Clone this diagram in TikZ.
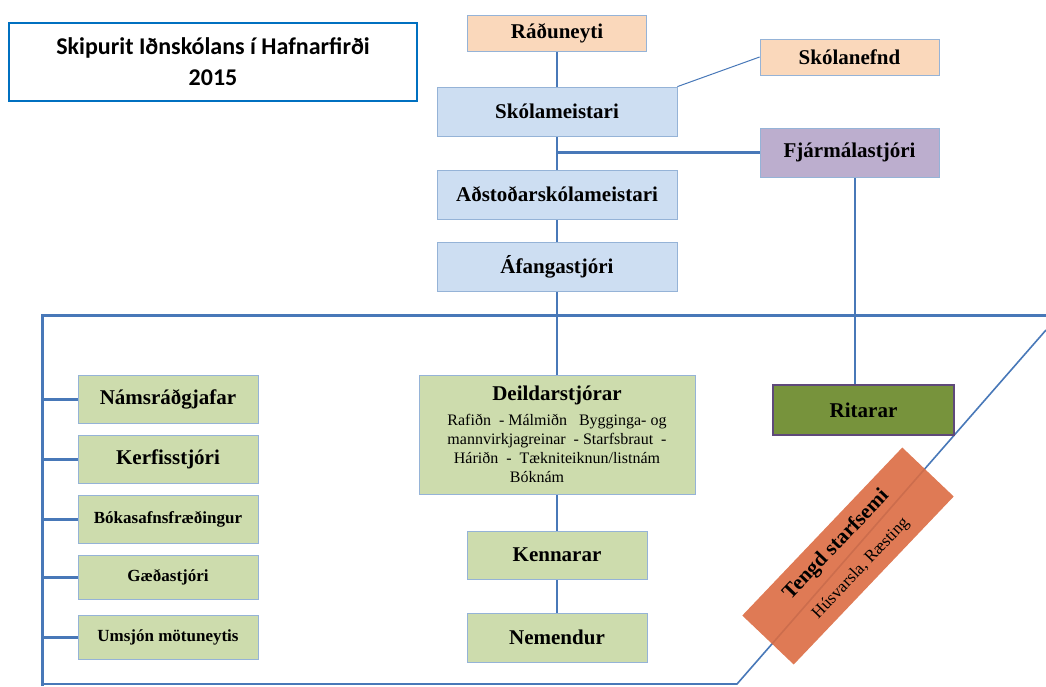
\documentclass[tikz,border=0pt]{standalone}
\usepackage{fontspec}
\setmainfont{Liberation Serif}
\newfontfamily\titlefont{Carlito}
\usetikzlibrary{backgrounds}

\definecolor{orgline}{RGB}{72,120,184}
\definecolor{boxline}{RGB}{149,179,215}
\definecolor{titleline}{RGB}{0,112,192}
\definecolor{peach}{RGB}{250,212,180}
\definecolor{paleblue}{RGB}{200,218,241}
\definecolor{lilac}{RGB}{181,165,201}
\definecolor{sage}{RGB}{200,216,164}
\definecolor{olive}{RGB}{119,147,60}
\definecolor{plum}{RGB}{95,73,122}
\definecolor{rust}{RGB}{219,108,66}

\newcommand\deptfont{\mdseries\fontsize{16}{19}\selectfont}
\newcommand\headfont{\bfseries\fontsize{21}{24}\selectfont}

\begin{document}
\begin{tikzpicture}
  [x=1pt,y=-1pt,
   unitbox/.style={draw=boxline,line width=0.8pt,inner sep=0pt,align=center,
     fill opacity=0.9,text opacity=1,font=\headfont},
   topbox/.style={unitbox,fill=peach,minimum width=179pt,minimum height=36pt},
   headbox/.style={unitbox,fill=paleblue,minimum width=240pt,minimum height=49pt},
   staffbox/.style={unitbox,fill=sage,minimum width=180pt,minimum height=48pt},
   smalltext/.style={font=\bfseries\fontsize{17}{20}\selectfont},
   trunk/.style={draw=orgline,line width=2.2pt},
   feeder/.style={draw=orgline,line width=3pt},
   thinlink/.style={draw=orgline,line width=1pt}]
  \useasboundingbox (0,0) rectangle (1046,686);

  \node[draw=titleline,line width=1.5pt,minimum width=408pt,minimum height=78pt,align=center,
    font=\titlefont\bfseries\fontsize{24}{31}\selectfont] (title) at (213,62)
    {Skipurit Iðnskólans í Hafnarfirði\\2015};

  \node[topbox] (rad) at (557,33)  {Ráðuneyti};
  \node[topbox] (skn) at (849.5,57)  {Skólanefnd};
  \node[headbox] (skm) at (557,111.5) {Skólameistari};
  \node[headbox] (ads) at (557,194.5) {Aðstoðarskólameistari};
  \node[headbox] (afs) at (557,266.5) {Áfangastjóri};
  \node[unitbox,fill=lilac,minimum width=179pt,minimum height=49pt] (fjs) at (849.5,152.5) {Fjármálastjóri};

  \node[staffbox] (nam) at (168,399) {Námsráðgjafar};
  \node[staffbox] (ker) at (168,459) {Kerfisstjóri};
  \node[staffbox,smalltext] (bok) at (168,519) {Bókasafnsfræðingur};
  \node[staffbox,smalltext,minimum height=44pt] (gae) at (168,577) {Gæðastjóri};
  \node[staffbox,smalltext,minimum height=44pt] (ums) at (168,637) {Umsjón mötuneytis};

  \node[staffbox,font=\deptfont,minimum width=276pt,minimum height=119pt] (dei) at (557,434.5)
    {\headfont Deildarstjórar\\[6pt]
     Rafiðn\ \ - Málmiðn\ \ \ Bygginga- og\\
     mannvirkjagreinar\ \ - Starfsbraut\ \ -\\
     Háriðn\ \ - \ Tækniteiknun/listnám\\
     Bóknám\hspace*{40pt}};
  \node[staffbox] (ken) at (557,555) {Kennarar};
  \node[staffbox,minimum height=49pt] (nem) at (557,637.5) {Nemendur};

  \node[unitbox,fill=olive,fill opacity=1,draw=plum,line width=1.8pt,minimum width=181pt,minimum height=50pt] (rit) at (863.5,410) {Ritarar};
  \node[unitbox,fill=rust,draw=none,rotate=46.4,minimum width=232pt,minimum height=71pt] (ten) at (848,556)
    {Tengd starfsemi\\[9pt]
     \mdseries\fontsize{17}{20}\selectfont Húsvarsla, Ræsting};

  \coordinate (fl) at (42,315);
  \coordinate (fr) at (1046,315);
  \coordinate (bl) at (42,686);
  \coordinate (bm) at (737,684);
  \coordinate (dr) at (1046,330);

  \begin{scope}[on background layer]
    \foreach \from/\to in {rad.south/skm,skm/ads,ads/afs,afs/dei,dei/ken,ken/nem}
      \draw[trunk] (\from) -- (\to);
    \draw[feeder] (fr) -- (fl) -- (bl);
    \draw[thinlink,line width=1.6pt] (bm -| fl) -- (bm) -- (dr);
    \draw[feeder] (fjs.west) -- (fjs.west -| skm.south);
    \draw[trunk] ([xshift=5.5pt]fjs.south) -- ([xshift=-8.5pt]rit.north);
    \draw[thinlink] (skm.north east) -- (skn.west);
    \foreach \n in {nam,ker,bok,gae,ums}
      \draw[feeder] (\n.west) -- (\n.west -| fl);
  \end{scope}
\end{tikzpicture}
\end{document}
